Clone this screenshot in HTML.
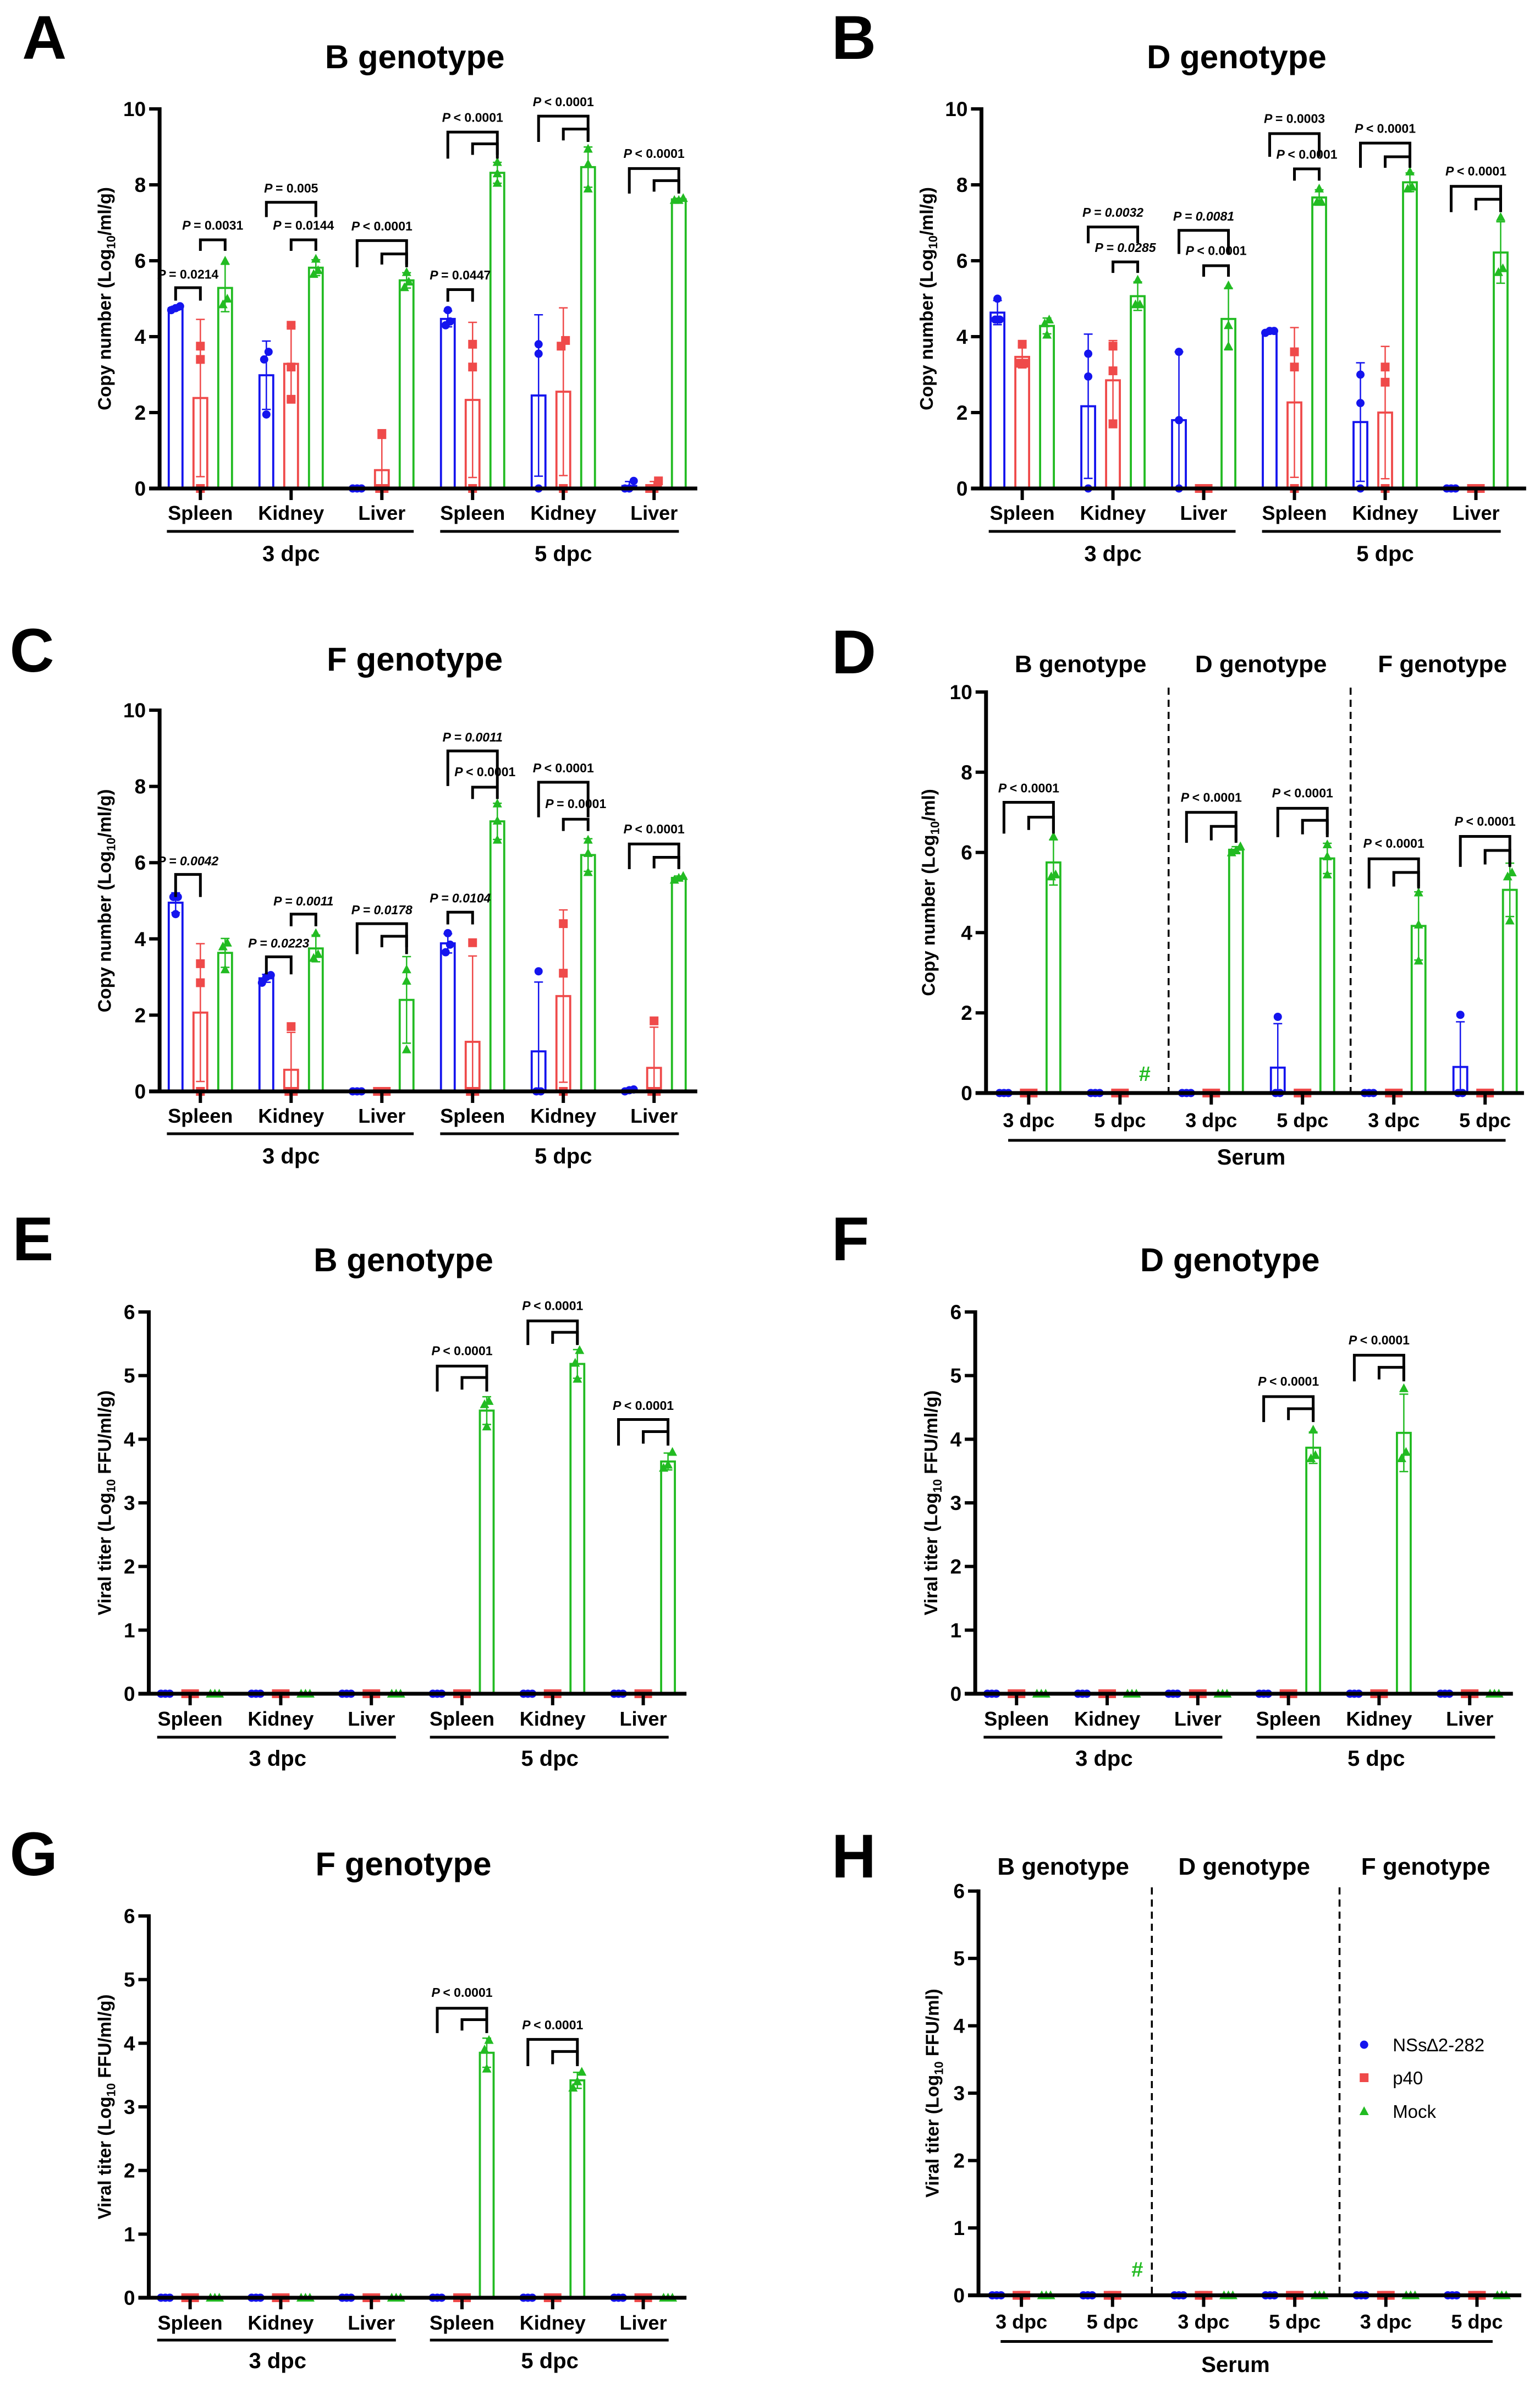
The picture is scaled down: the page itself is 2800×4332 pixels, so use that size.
<!DOCTYPE html>
<html>
<head>
<meta charset="utf-8">
<style>
  html, body { margin: 0; padding: 0; background: #ffffff; }
  svg { display: block; }
  text { font-family: "Liberation Sans", Arial, sans-serif; }
</style>
</head>
<body>
<svg id="fig" xmlns="http://www.w3.org/2000/svg" width="2800" height="4332" viewBox="0 0 2800 4332">
  <rect x="0" y="0" width="2800" height="4332" fill="#ffffff"/>
</svg>
<script>
// ---------------- DATA ----------------
const tissueLabels = ['Spleen','Kidney','Liver','Spleen','Kidney','Liver'];
const serumLabels = ['3 dpc','5 dpc','3 dpc','5 dpc','3 dpc','5 dpc'];
const seriesNames = ['NSs\u22062-282','p40','Mock'];
const copyTicks = [0,2,4,6,8,10];
const titerTicks = [0,1,2,3,4,5,6];

const A_blue  = [[4.7,4.75,4.8],[3.6,3.4,1.95],[0,0,0],[4.7,4.4,4.3],[3.8,3.55,0],[0.2,0,0]];
const A_red   = [[3.75,3.4,0],[4.3,3.2,2.35],[1.45,0,0],[3.8,3.2,0],[3.9,3.75,0],[0.2,0,0]];
const A_green = [[6.0,5.0,4.85],[6.05,5.75,5.65],[5.7,5.45,5.3],[8.6,8.3,8.05],[8.95,8.55,7.9],[7.65,7.6,7.6]];
const A_brackets = [
  [0,0,1,5.29,4.95,'= 0.0214',5.53,0],[0,1,2,6.55,6.26,'= 0.0031',6.82,0],
  [1,0,2,7.54,7.15,'= 0.005',7.8,0],[1,1,2,6.55,6.26,'= 0.0144',6.82,0],
  [2,0,2,6.53,5.83,'< 0.0001',6.8,0],[2,1,2,6.18,5.9,'',0,0],
  [3,0,1,5.24,4.92,'= 0.0447',5.51,0],[3,0,2,9.39,8.69,'< 0.0001',9.66,0],[3,1,2,9.08,8.79,'',0,0],
  [4,0,2,9.81,9.13,'< 0.0001',10.07,0],[4,1,2,9.47,9.17,'',0,0],
  [5,0,2,8.43,7.77,'< 0.0001',8.71,0],[5,1,2,8.11,7.82,'',0,0]
];

const B_blue  = [[5.0,4.45,4.45],[3.55,2.95,0],[3.6,1.8,0],[4.15,4.15,4.1],[3.0,2.25,0],[0,0,0]];
const B_red   = [[3.8,3.3,3.3],[3.75,3.1,1.7],[0,0,0],[3.6,3.2,0],[3.2,2.8,0],[0,0,0]];
const B_green = [[4.45,4.35,4.05],[5.5,4.85,4.85],[5.35,4.3,3.75],[7.9,7.55,7.55],[8.35,7.95,7.9],[7.15,5.8,5.7]];
const B_brackets = [
  [1,0,2,6.89,6.46,'= 0.0032',7.16,1],[1,1,2,5.97,5.68,'= 0.0285',6.23,1],
  [2,0,2,6.8,6.18,'= 0.0081',7.06,1],[2,1,2,5.87,5.58,'< 0.0001',6.15,0],
  [3,0,2,9.35,8.74,'= 0.0003',9.63,0],[3,1,2,8.42,8.11,'< 0.0001',8.69,0],
  [4,0,2,9.1,8.45,'< 0.0001',9.37,0],[4,1,2,8.74,8.45,'',0,0],
  [5,0,2,7.96,7.28,'< 0.0001',8.25,0],[5,1,2,7.62,7.33,'',0,0]
];

const C_blue  = [[5.1,5.1,4.65],[3.05,3.0,2.85],[0,0,0],[4.15,3.85,3.65],[3.15,0,0],[0.05,0.03,0]];
const C_red   = [[3.35,2.85,0],[1.7,0,0],[0,0,0],[3.9,0,0],[4.4,3.1,0],[1.85,0,0]];
const C_green = [[3.9,3.8,3.2],[4.15,3.6,3.5],[3.2,2.9,1.1],[7.55,7.1,6.6],[6.6,6.25,5.75],[5.65,5.6,5.55]];
const C_brackets = [
  [0,0,1,5.69,5.1,'= 0.0042',5.93,1],
  [1,0,1,3.53,3.07,'= 0.0223',3.77,1],[1,1,2,4.65,4.33,'= 0.0011',4.88,1],
  [2,0,2,4.4,3.6,'= 0.0178',4.65,1],[2,1,2,4.07,3.78,'',0,0],
  [3,0,1,4.7,4.38,'= 0.0104',4.96,1],[3,0,2,8.93,8.01,'= 0.0011',9.18,1],[3,1,2,7.98,7.67,'< 0.0001',8.27,0],
  [4,0,2,8.11,7.19,'< 0.0001',8.37,0],[4,1,2,7.14,6.83,'= 0.0001',7.43,0],
  [5,0,2,6.49,5.83,'< 0.0001',6.77,0],[5,1,2,6.14,5.85,'',0,0]
];

const D_blue  = [[0,0,0],[0,0,0],[0,0,0],[1.9,0,0],[0,0,0],[1.95,0,0]];
const D_red   = [[0,0,0],[0,0,0],[0,0,0],[0,0,0],[0,0,0],[0,0,0]];
const D_green = [[6.4,5.4,5.45],[],[6.15,6.0,6.05],[6.2,5.9,5.45],[5.0,4.2,3.3],[5.5,5.4,4.3]];
const D_brackets = [
  [0,0,2,7.25,6.47,'< 0.0001',7.5,0],[0,1,2,6.88,6.56,'',0,0],
  [2,0,2,7.0,6.24,'< 0.0001',7.26,0],[2,1,2,6.65,6.3,'',0,0],
  [3,0,2,7.1,6.38,'< 0.0001',7.37,0],[3,1,2,6.8,6.45,'',0,0],
  [4,0,2,5.84,5.1,'< 0.0001',6.12,0],[4,1,2,5.5,5.15,'',0,0],
  [5,0,2,6.4,5.64,'< 0.0001',6.67,0],[5,1,2,6.05,5.7,'',0,0]
];

const E_blue  = [[0,0,0],[0,0,0],[0,0,0],[0,0,0],[0,0,0],[0,0,0]];
const E_red   = [[0,0,0],[0,0,0],[0,0,0],[0,0,0],[0,0,0],[0,0,0]];
const E_green = [[0,0,0],[0,0,0],[0,0,0],[4.6,4.55,4.2],[5.4,5.2,4.95],[3.8,3.6,3.55]];
const E_brackets = [
  [3,0,2,5.15,4.75,'< 0.0001',5.32,0],[3,1,2,4.97,4.78,'',0,0],
  [4,0,2,5.86,5.48,'< 0.0001',6.03,0],[4,1,2,5.68,5.5,'',0,0],
  [5,0,2,4.31,3.9,'< 0.0001',4.46,0],[5,1,2,4.12,3.93,'',0,0]
];

const F_blue  = [[0,0,0],[0,0,0],[0,0,0],[0,0,0],[0,0,0],[0,0,0]];
const F_red   = [[0,0,0],[0,0,0],[0,0,0],[0,0,0],[0,0,0],[0,0,0]];
const F_green = [[0,0,0],[0,0,0],[0,0,0],[4.15,3.75,3.7],[4.8,3.8,3.7],[0,0,0]];
const F_brackets = [
  [3,0,2,4.67,4.27,'< 0.0001',4.84,0],[3,1,2,4.48,4.3,'',0,0],
  [4,0,2,5.32,4.91,'< 0.0001',5.49,0],[4,1,2,5.13,4.94,'',0,0]
];

const G_blue  = [[0,0,0],[0,0,0],[0,0,0],[0,0,0],[0,0,0],[0,0,0]];
const G_red   = [[0,0,0],[0,0,0],[0,0,0],[0,0,0],[0,0,0],[0,0,0]];
const G_green = [[0,0,0],[0,0,0],[0,0,0],[4.05,3.9,3.6],[3.55,3.4,3.3],[0,0,0]];
const G_brackets = [
  [3,0,2,4.55,4.16,'< 0.0001',4.73,0],[3,1,2,4.37,4.2,'',0,0],
  [4,0,2,4.06,3.64,'< 0.0001',4.22,0],[4,1,2,3.87,3.67,'',0,0]
];

const H_blue  = [[0,0,0],[0,0,0],[0,0,0],[0,0,0],[0,0,0],[0,0,0]];
const H_red   = [[0,0,0],[0,0,0],[0,0,0],[0,0,0],[0,0,0],[0,0,0]];
const H_green = [[0,0,0],[],[0,0,0],[0,0,0],[0,0,0],[0,0,0]];
const H_brackets = [];

// ---------------- RENDER ----------------
const NS = 'http://www.w3.org/2000/svg';
const svg = document.getElementById('fig');
const COLORS = ['#1414ee', '#ef4a4a', '#22bb22'];
const XS = 0.982;

function mk(tag, attrs, parent) {
  const e = document.createElementNS(NS, tag);
  for (const k in attrs) e.setAttribute(k, attrs[k]);
  (parent || svg).appendChild(e);
  return e;
}
function txt(str, x, y, size, weight, anchor, parent) {
  const t = mk('text', {x: x, y: y, 'font-size': size, 'font-weight': weight, 'text-anchor': anchor, fill: '#000'}, parent);
  t.textContent = str;
  return t;
}
function mean(a) { return a.reduce((s, v) => s + v, 0) / a.length; }
function sd(a) {
  if (a.length < 2) return 0;
  const m = mean(a);
  return Math.sqrt(a.reduce((s, v) => s + (v - m) * (v - m), 0) / (a.length - 1));
}
function marker(kind, cx, cy, color, parent) {
  let e;
  if (kind === 0) e = mk('circle', {cx: cx, cy: cy, r: 7.5, fill: color}, parent);
  else if (kind === 1) e = mk('rect', {x: cx - 8, y: cy - 8, width: 16, height: 16, fill: color}, parent);
  else e = mk('polygon', {points: (cx) + ',' + (cy - 9) + ' ' + (cx - 8.5) + ',' + (cy + 7) + ' ' + (cx + 8.5) + ',' + (cy + 7), fill: color}, parent);
  return e;
}

// correct horizontal geometry relative to the panel's column origin
function fixX(p) {
  const c = p.c0;
  const f = x => c + (x - c) * XS;
  ['ax', 'xEnd', 'red0', 'tx', 'ylx', 'lx'].forEach(k => { if (p[k] !== undefined) p[k] = f(p[k]); });
  p.gs = p.gs * XS;
  p.ul = p.ul.map(u => [f(u[0]), f(u[1])]);
  p.groupLabels = p.groupLabels.map(g => [f(g[0]), g[1]]);
  if (p.headers) p.headers = p.headers.map(h => [f(h[0]), h[1]]);
  if (p.dashes) p.dashes = p.dashes.map(f);
  return p;
}

function drawPanel(p, series, brackets) {
  p = fixX(p);
  const g = mk('g', {});
  
  
  const yS = v => p.y0 - v * (p.y0 - p.yTop) / p.yMax;
  const xB = (gi, s) => p.red0 + gi * p.gs + (s - 1) * p.bs;

  const L = txt(p.letter, p.lx, p.ly, 112, 'bold', 'start', g);
  
  
  if (p.title) {
    const T = txt(p.title, p.tx, p.ty, 60, 'bold', 'middle', g);
    
    
  }
  if (p.headers) {
    p.headers.forEach(h => {
      const H = txt(h[1], h[0], p.hy, 44, 'bold', 'middle', g);
      
      
    });
  }
  if (p.dashes) {
    p.dashes.forEach(dx => {
      const dl = mk('line', {x1: dx, y1: p.dashTop, x2: dx, y2: p.y0, stroke: '#000', 'stroke-width': 3.5, 'stroke-dasharray': '13 9'}, g);
      
      
    });
  }

  const yl = mk('text', {transform: 'translate(' + p.ylx + ',' + ((p.y0 + p.yTop) / 2) + ') rotate(-90)', x: 0, y: 12, 'font-size': 33, 'font-weight': 'bold', 'text-anchor': 'middle'}, g);
  
  
  const t1 = mk('tspan', {}, yl); t1.textContent = p.yl[0];
  const t2 = mk('tspan', {'font-size': 22, dy: 8}, yl); t2.textContent = '10';
  const t3 = mk('tspan', {dy: -8}, yl); t3.textContent = p.yl[1];

  const ya = mk('line', {x1: p.ax, y1: p.yTop - 3, x2: p.ax, y2: p.y0 + 3, stroke: '#000', 'stroke-width': 7}, g);
  
  
  p.ticks.forEach(v => {
    const y = yS(v);
    const tk = mk('line', {x1: p.ax - 19, y1: y, x2: p.ax, y2: y, stroke: '#000', 'stroke-width': 6}, g);
    
    
    const tl = txt(String(v), p.ax - 25, y + 13, 37, 'bold', 'end', g);
    
    
  });

  for (let gi = 0; gi < 6; gi++) {
    for (let s = 0; s < 3; s++) {
      const pts = series[s][gi];
      if (!pts || pts.length === 0) continue;
      const cx = xB(gi, s);
      const col = COLORS[s];
      const m = mean(pts), d = sd(pts);
      if (m > 0.001) {
        const yt = yS(m);
        const bar = mk('rect', {x: cx - 12.5, y: yt, width: 25, height: p.y0 - yt, fill: '#fff', stroke: col, 'stroke-width': 3.8}, g);
        
        
      }
      if (d > 0.001) {
        const hi = yS(m + d), lo = yS(Math.max(m - d, 0));
        const eb = mk('path', {d: 'M' + cx + ' ' + lo + 'V' + hi + 'M' + (cx - 8) + ' ' + hi + 'H' + (cx + 8) + (m - d > 0 ? 'M' + (cx - 8) + ' ' + lo + 'H' + (cx + 8) : ''), stroke: col, 'stroke-width': 2.5, fill: 'none'}, g);
        
        
      }
      const order = pts.map((v, i) => i).sort((a, b) => pts[a] - pts[b]);
      const clusters = [];
      order.forEach(i => {
        const c = clusters[clusters.length - 1];
        if (c && Math.abs(pts[i] - pts[c[c.length - 1]]) < 0.22) c.push(i); else clusters.push([i]);
      });
      clusters.forEach(c => {
        c.forEach((i, k) => {
          const off = (k - (c.length - 1) / 2) * 8;
          const mkp = marker(s, cx + off, yS(pts[i]), col, g);
          
          
        });
      });
    }
  }

  const xa = mk('line', {x1: p.ax - 19, y1: p.y0, x2: p.xEnd, y2: p.y0, stroke: '#000', 'stroke-width': 7}, g);
  
  
  for (let gi = 0; gi < 6; gi++) {
    const cx = xB(gi, 1);
    const tk = mk('line', {x1: cx, y1: p.y0, x2: cx, y2: p.y0 + 21, stroke: '#000', 'stroke-width': 6}, g);
    
    
    const lb = txt(p.labels[gi], cx, p.labY, 36, 'bold', 'middle', g);
    
    
  }
  p.ul.forEach(u => {
    const ln = mk('line', {x1: u[0], y1: p.ulY, x2: u[1], y2: p.ulY, stroke: '#000', 'stroke-width': 5}, g);
    
    
  });
  p.groupLabels.forEach(gl => {
    const t = txt(gl[1], gl[0], p.dpcY, 40, 'bold', 'middle', g);
    
    
  });

  brackets.forEach(b => {
    const xa1 = xB(b[0], b[1]), xb1 = xB(b[0], b[2]);
    const yt = yS(b[3]), yb = yS(b[4]);
    const br = mk('path', {d: 'M' + xa1 + ' ' + yb + 'V' + yt + 'H' + xb1 + 'V' + yb, stroke: '#000', 'stroke-width': 5, fill: 'none'}, g);
    
    
    if (b[5]) {
      const t = mk('text', {x: (xa1 + xb1) / 2, y: yS(b[6]), 'font-size': 23, 'font-weight': 'bold', 'text-anchor': 'middle', 'font-style': b[7] ? 'italic' : 'normal'}, g);
      
      
      const pp = mk('tspan', {'font-style': 'italic'}, t); pp.textContent = 'P ';
      const rest = mk('tspan', {}, t); rest.textContent = b[5];
    }
  });

  if (p.hash) {
    p.hash.forEach(h => {
      const t = txt('#', xB(h[0], 2), yS(h[1]), 38, 'bold', 'middle', g);
      t.setAttribute('fill', COLORS[2]);
      
      
    });
  }
  return g;
}

const copyTissue = {yMax: 10, ticks: copyTicks, yl: ['Copy number (Log', '/ml/g)'], labels: tissueLabels, bs: 45};
const titerTissue = {yMax: 6, ticks: titerTicks, yl: ['Viral titer (Log', ' FFU/ml/g)'], labels: tissueLabels, bs: 45};

drawPanel(Object.assign({}, copyTissue, {c0: 0, letter: 'A', lx: 41, ly: 107, title: 'B genotype', tx: 768, ty: 124,
  ax: 295.5, y0: 888, yTop: 198, xEnd: 1291, red0: 371, gs: 168, ylx: 193,
  labY: 945, ulY: 966, ul: [[309, 766], [815, 1257]], dpcY: 1020, groupLabels: [[539, '3 dpc'], [1043, '5 dpc']]}),
  [A_blue, A_red, A_green], A_brackets);

drawPanel(Object.assign({}, copyTissue, {c0: 1400, letter: 'B', lx: 1514, ly: 107, title: 'D genotype', tx: 2264, ty: 124,
  ax: 1791.5, y0: 888, yTop: 198, xEnd: 2800, red0: 1867, gs: 168, ylx: 1689,
  labY: 945, ulY: 966, ul: [[1805, 2262], [2311, 2753]], dpcY: 1020, groupLabels: [[2035, '3 dpc'], [2539, '5 dpc']]}),
  [B_blue, B_red, B_green], B_brackets);

drawPanel(Object.assign({}, copyTissue, {c0: 0, letter: 'C', lx: 18, ly: 1221, title: 'F genotype', tx: 768, ty: 1219,
  ax: 295.5, y0: 1984, yTop: 1291, xEnd: 1291, red0: 371, gs: 168, ylx: 193,
  labY: 2041, ulY: 2061, ul: [[309, 766], [815, 1257]], dpcY: 2115, groupLabels: [[539, '3 dpc'], [1043, '5 dpc']]}),
  [C_blue, C_red, C_green], C_brackets);

drawPanel({c0: 1400, bs: 45, letter: 'D', lx: 1514, ly: 1224, yMax: 10, ticks: copyTicks, yl: ['Copy number (Log', '/ml)'], labels: serumLabels,
  headers: [[1975, 'B genotype'], [2309, 'D genotype'], [2645, 'F genotype']], hy: 1222,
  dashes: [2138, 2475], dashTop: 1250,
  ax: 1800, y0: 1987, yTop: 1258, xEnd: 2796, red0: 1879, gs: 169, ylx: 1693,
  labY: 2049, ulY: 2073, ul: [[1841, 2762]], dpcY: 2117, groupLabels: [[2291, 'Serum']], hash: [[1, 0.3]]},
  [D_blue, D_red, D_green], D_brackets);

drawPanel(Object.assign({}, titerTissue, {c0: 0, letter: 'E', lx: 23, ly: 2291, title: 'B genotype', tx: 747, ty: 2311,
  ax: 275.5, y0: 3079, yTop: 2385, xEnd: 1271, red0: 352, gs: 167.8, ylx: 193,
  labY: 3137, ulY: 3158, ul: [[291, 733], [796, 1238]], dpcY: 3210, groupLabels: [[514, '3 dpc'], [1018, '5 dpc']]}),
  [E_blue, E_red, E_green], E_brackets);

drawPanel(Object.assign({}, titerTissue, {c0: 1400, letter: 'F', lx: 1514, ly: 2291, title: 'D genotype', tx: 2251.5, ty: 2311,
  ax: 1780, y0: 3079, yTop: 2385, xEnd: 2775.5, red0: 1856.5, gs: 167.8, ylx: 1697.5,
  labY: 3137, ulY: 3158, ul: [[1795.5, 2237.5], [2300.5, 2742.5]], dpcY: 3210, groupLabels: [[2018.5, '3 dpc'], [2522.5, '5 dpc']]}),
  [F_blue, F_red, F_green], F_brackets);

drawPanel(Object.assign({}, titerTissue, {c0: 0, letter: 'G', lx: 18, ly: 3409, title: 'F genotype', tx: 747, ty: 3409,
  ax: 275.5, y0: 4177, yTop: 3483, xEnd: 1271, red0: 352, gs: 167.8, ylx: 193,
  labY: 4235, ulY: 4254, ul: [[291, 733], [796, 1238]], dpcY: 4305, groupLabels: [[514, '3 dpc'], [1018, '5 dpc']]}),
  [G_blue, G_red, G_green], G_brackets);

drawPanel({c0: 1400, bs: 45, letter: 'H', lx: 1514, ly: 3413, yMax: 6, ticks: titerTicks, yl: ['Viral titer (Log', ' FFU/ml)'], labels: serumLabels,
  headers: [[1943, 'B genotype'], [2278, 'D genotype'], [2614, 'F genotype']], hy: 3408,
  dashes: [2107, 2454.5], dashTop: 3431,
  ax: 1786, y0: 4172.6, yTop: 3437.7, xEnd: 2791, red0: 1865.5, gs: 168.7, ylx: 1700,
  labY: 4233, ulY: 4256.5, ul: [[1827, 2738]], dpcY: 4312, groupLabels: [[2262, 'Serum']], hash: [[1, 0.28]]},
  [H_blue, H_red, H_green], H_brackets);

// legend (panel H)
const legendY = [3717, 3777, 3838];
const legendX = 1400 + (2500 - 1400) * XS;
const lg = mk('g', {});


seriesNames.forEach((name, i) => {
  const m = marker(i, legendX, legendY[i], COLORS[i], lg);
  
  
  const t = txt(name, legendX + 52, legendY[i] + 12, 33, 'normal', 'start', lg);
  
  
});
</script>
</body>
</html>
